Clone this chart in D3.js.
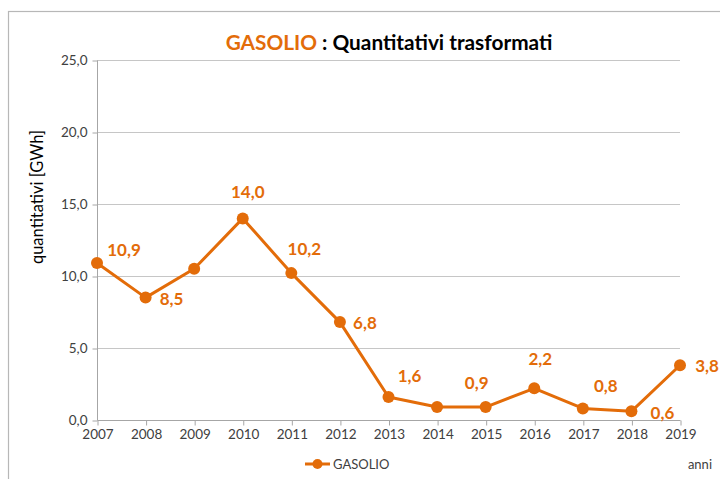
<!DOCTYPE html>
<html>
<head>
<meta charset="utf-8">
<script src="https://cdn.jsdelivr.net/npm/d3@7"></script>
<style>
  html, body { margin: 0; padding: 0; background: #fff; }
  svg { display: block; }
  text { font-family: Lato, "Open Sans", sans-serif; }
</style>
</head>
<body>
<script>
// ---- data ----
const years = ["2007","2008","2009","2010","2011","2012","2013","2014","2015","2016","2017","2018","2019"];
const gasolio = [10.9, 8.5, 10.5, 14.0, 10.2, 6.8, 1.6, 0.9, 0.9, 2.2, 0.8, 0.6, 3.8];
const pointLabels = ["10,9","8,5",null,"14,0","10,2","6,8","1,6",null,"0,9","2,2","0,8","0,6","3,8"];
const yTicks = [0, 5, 10, 15, 20, 25];
const seriesName = "GASOLIO";

// ---- layout ----
const W = 720, H = 479;
const orange = "#E36C09";
const labelOffsets = [[27,-13],[26,1],[0,0],[5,-27],[13,-24],[25,1],[21,-21],[0,0],[-9,-24],[6,-29],[23,-23],[31,2],[27,1]];

const svg = d3.select("body").append("svg").attr("width", W).attr("height", H);

// outer border (extends beyond window on right / bottom)
svg.append("rect").attr("x", 8.5).attr("y", 11.5).attr("width", 800).attr("height", 600)
  .attr("fill", "none").attr("stroke", "#b7b7b7").attr("stroke-width", 1.2);

const x = d3.scalePoint().domain(years).range([97, 680]);
const y = d3.scaleLinear().domain([0, 25]).range([420, 60]);

// gridlines
svg.append("g").selectAll("line").data(yTicks.slice(1)).join("line")
  .attr("x1", 97).attr("x2", 680)
  .attr("y1", d => Math.round(y(d)) + 0.5).attr("y2", d => Math.round(y(d)) + 0.5)
  .attr("stroke", "#c6c6c6").attr("stroke-width", 1);

// y axis
const yAxis = svg.append("g").attr("transform", "translate(97.5,0.5)")
  .call(d3.axisLeft(y).tickValues(yTicks).tickSize(5).tickPadding(5)
    .tickFormat(d => d3.format(".1f")(d).replace(".", ",")));
yAxis.select(".domain").attr("stroke", "#a6a6a6").attr("d", "M0,60V420");
yAxis.selectAll(".tick line").attr("stroke", "#a6a6a6");
yAxis.selectAll(".tick text").attr("fill", "#404040").attr("font-size", 13.5).attr("font-family", "Lato, sans-serif");

// x axis
const xAxis = svg.append("g").attr("transform", "translate(0.5,420.5)")
  .call(d3.axisBottom(x).tickSize(5).tickPadding(4));
xAxis.select(".domain").attr("stroke", "#a6a6a6").attr("d", "M97,0H680");
xAxis.selectAll(".tick line").attr("stroke", "#a6a6a6");
xAxis.selectAll(".tick text").attr("fill", "#404040").attr("font-size", 13.5).attr("font-family", "Lato, sans-serif");

// y axis title
svg.append("text").attr("transform", "translate(43,197) rotate(-90)")
  .attr("text-anchor", "middle").attr("font-size", 16.5).attr("fill", "#000")
  .text("quantitativi [GWh]");

// title
const title = svg.append("text").attr("x", 389).attr("y", 50).attr("text-anchor", "middle")
  .attr("font-size", 20.8).attr("font-weight", "bold");
title.append("tspan").attr("fill", orange).text("GASOLIO");
title.append("tspan").attr("fill", "#000").text(" : Quantitativi trasformati");

// line
const line = d3.line().x((d, i) => x(years[i])).y(d => y(d));
svg.append("path").datum(gasolio).attr("d", line)
  .attr("fill", "none").attr("stroke", orange).attr("stroke-width", 3).attr("stroke-linejoin", "round");

svg.append("g").selectAll("circle").data(gasolio).join("circle")
  .attr("cx", (d, i) => x(years[i])).attr("cy", d => y(d)).attr("r", 6).attr("fill", orange);

// data labels
svg.append("g").selectAll("text").data(gasolio.map((v, i) => ({v, i}))
    .filter(d => pointLabels[d.i] !== null)).join("text")
  .attr("x", d => x(years[d.i]) + labelOffsets[d.i][0])
  .attr("y", d => y(d.v) + labelOffsets[d.i][1])
  .attr("dy", "0.36em").attr("text-anchor", "middle")
  .attr("font-size", 17).attr("font-weight", "bold").attr("fill", orange)
  .text(d => pointLabels[d.i]);

// legend
const lg = svg.append("g").attr("transform", "translate(305,464)");
lg.append("line").attr("x1", 0).attr("x2", 25).attr("y1", 0).attr("y2", 0)
  .attr("stroke", orange).attr("stroke-width", 3);
lg.append("circle").attr("cx", 12.5).attr("cy", 0).attr("r", 5).attr("fill", orange);
lg.append("text").attr("x", 28).attr("y", 0).attr("dy", "0.36em")
  .attr("font-size", 13).attr("fill", "#404040").text(seriesName);

// "anni"
svg.append("text").attr("x", 712).attr("y", 464).attr("dy", "0.36em").attr("text-anchor", "end")
  .attr("font-size", 13).attr("fill", "#404040").text("anni");
</script>
</body>
</html>
